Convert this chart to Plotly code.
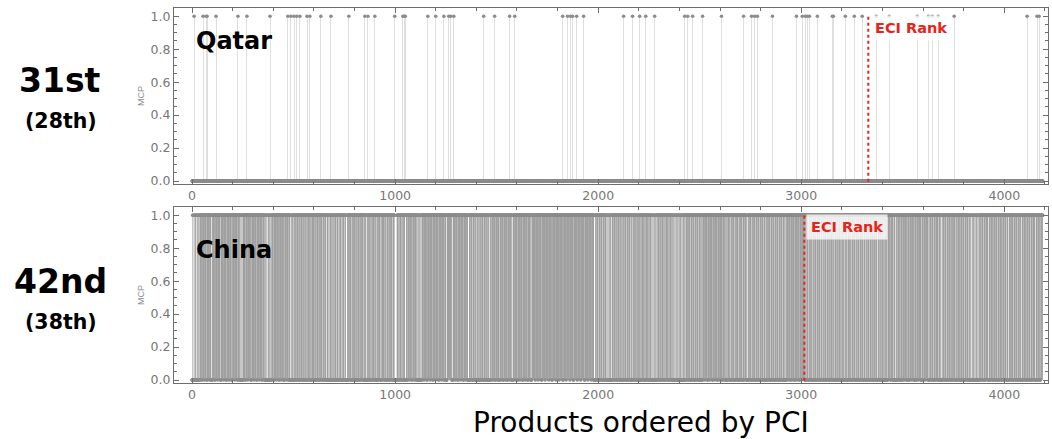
import numpy as np
import plotly.graph_objects as go
from plotly.subplots import make_subplots

# ---- data -------------------------------------------------------------
N_PRODUCTS = 4190  # products ordered by PCI (index 0 .. N-1)

# Qatar: products with revealed comparative advantage (MCP = 1)
qatar_exported = [
    10, 54, 69, 74, 118, 226, 270, 384, 472, 487, 502, 516, 531, 566, 580,
    634, 684, 772, 851, 866, 900, 998, 1038, 1045, 1050, 1161, 1200, 1240,
    1264, 1274, 1289, 1436, 1490, 1564, 1589, 1825, 1849, 1864, 1874, 1894,
    1928, 2125, 2169, 2204, 2234, 2278, 2426, 2441, 2465, 2514, 2607, 2716,
    2755, 2770, 2784, 2858, 2976, 3005, 3020, 3030, 3040, 3079, 3153, 3158,
    3217, 3261, 3300, 3369, 3433, 3571, 3625, 3645, 3674, 3753, 4112, 4161,
    4171,
]

# China: runs of products WITHOUT comparative advantage (start, length);
# every other product has MCP = 1
china_zero_runs = [
    (0, 3), (5, 4), (12, 3), (19, 5), (28, 4), (36, 3), (48, 2), (60, 1),
    (72, 2), (84, 1), (95, 5), (112, 2), (126, 1), (140, 3), (155, 1),
    (168, 2), (182, 1), (195, 3), (210, 1), (224, 2), (236, 3), (242, 3),
    (248, 3), (262, 2), (275, 1), (290, 3), (305, 1), (318, 2), (332, 1),
    (345, 2), (358, 3), (364, 3), (370, 4), (378, 3), (385, 3), (391, 2),
    (402, 2), (415, 1), (428, 2), (440, 1), (452, 3), (466, 1), (476, 2),
    (484, 6), (497, 3), (506, 2), (514, 2), (525, 3), (533, 2), (543, 2),
    (551, 3), (561, 2), (569, 2), (580, 3), (589, 2), (601, 2), (610, 3),
    (621, 2), (629, 2), (641, 3), (650, 2), (660, 4), (670, 3), (677, 3),
    (686, 2), (693, 3), (702, 2), (709, 3), (719, 3), (726, 2), (735, 3),
    (742, 2), (750, 3), (758, 6), (772, 2), (783, 3), (792, 2), (803, 2),
    (812, 3), (823, 2), (831, 2), (843, 3), (851, 2), (857, 4), (866, 2),
    (876, 3), (885, 2), (896, 2), (905, 4), (915, 2), (926, 3), (934, 2),
    (946, 2), (955, 3), (966, 2), (974, 2), (986, 3), (997, 12), (1018, 3),
    (1029, 2), (1037, 3), (1049, 5), (1060, 2), (1072, 1), (1083, 2),
    (1094, 1), (1103, 2), (1110, 3), (1116, 3), (1122, 4), (1129, 3),
    (1142, 1), (1156, 2), (1171, 1), (1185, 2), (1199, 1), (1214, 2),
    (1229, 1), (1242, 2), (1251, 4), (1280, 4), (1295, 1), (1308, 2),
    (1323, 1), (1336, 2), (1349, 1), (1359, 5), (1370, 2), (1381, 3),
    (1390, 2), (1398, 4), (1408, 2), (1416, 3), (1426, 2), (1434, 3),
    (1444, 2), (1452, 3), (1462, 5), (1472, 2), (1483, 1), (1492, 2),
    (1503, 1), (1512, 3), (1523, 1), (1532, 2), (1543, 1), (1552, 2),
    (1562, 1), (1574, 6), (1590, 1), (1603, 2), (1615, 1), (1628, 2),
    (1641, 1), (1653, 2), (1668, 4), (1690, 1), (1705, 1), (1721, 2),
    (1738, 1), (1756, 1), (1772, 2), (1791, 1), (1808, 1), (1826, 2),
    (1842, 1), (1861, 1), (1878, 2), (1897, 1), (1914, 1), (1933, 2),
    (1950, 1), (1967, 1), (1980, 6), (1992, 2), (2001, 3), (2012, 2),
    (2021, 3), (2031, 2), (2039, 3), (2045, 3), (2051, 3), (2057, 3),
    (2064, 4), (2075, 2), (2086, 3), (2095, 2), (2106, 3), (2116, 4),
    (2127, 2), (2138, 3), (2147, 2), (2158, 3), (2166, 4), (2176, 2),
    (2186, 3), (2195, 2), (2205, 3), (2214, 2), (2225, 3), (2234, 2),
    (2245, 3), (2253, 2), (2260, 3), (2266, 3), (2272, 4), (2279, 3),
    (2285, 3), (2292, 2), (2303, 3), (2312, 2), (2323, 3), (2332, 2),
    (2343, 3), (2352, 2), (2362, 3), (2368, 3), (2374, 3), (2380, 3),
    (2387, 3), (2394, 3), (2401, 3), (2408, 3), (2415, 3), (2422, 3),
    (2429, 3), (2442, 2), (2453, 3), (2462, 2), (2473, 3), (2482, 2),
    (2493, 3), (2502, 2), (2510, 4), (2525, 1), (2538, 2), (2549, 1),
    (2562, 2), (2573, 1), (2586, 2), (2597, 1), (2610, 2), (2620, 1),
    (2628, 4), (2638, 2), (2649, 3), (2658, 2), (2669, 3), (2678, 2),
    (2689, 3), (2698, 2), (2709, 3), (2718, 2), (2731, 6), (2742, 2),
    (2753, 3), (2762, 2), (2773, 3), (2782, 2), (2793, 3), (2802, 2),
    (2813, 3), (2824, 4), (2836, 2), (2847, 3), (2856, 2), (2867, 3),
    (2876, 2), (2887, 3), (2896, 2), (2907, 3), (2915, 2), (2922, 4),
    (2935, 1), (2946, 2), (2958, 1), (2968, 2), (2980, 1), (2990, 2),
    (3001, 1), (3018, 3), (3027, 2), (3036, 3), (3047, 2), (3055, 4),
    (3066, 2), (3074, 3), (3085, 2), (3093, 3), (3104, 4), (3114, 2),
    (3122, 3), (3133, 2), (3141, 3), (3152, 2), (3161, 4), (3172, 2),
    (3180, 3), (3191, 2), (3199, 3), (3210, 4), (3220, 2), (3228, 3),
    (3239, 2), (3247, 3), (3258, 2), (3267, 4), (3278, 2), (3286, 3),
    (3297, 2), (3305, 3), (3316, 4), (3326, 2), (3334, 3), (3345, 2),
    (3353, 3), (3364, 2), (3373, 4), (3384, 2), (3392, 3), (3403, 2),
    (3411, 3), (3422, 4), (3440, 2), (3452, 3), (3463, 5), (3475, 2),
    (3486, 3), (3497, 2), (3508, 1), (3520, 3), (3531, 2), (3543, 1),
    (3555, 3), (3566, 2), (3578, 1), (3590, 3), (3601, 2), (3613, 1),
    (3626, 5), (3640, 2), (3651, 3), (3662, 2), (3674, 3), (3684, 2),
    (3690, 5), (3703, 2), (3714, 3), (3725, 2), (3736, 3), (3747, 2),
    (3759, 4), (3770, 2), (3781, 3), (3792, 2), (3803, 3), (3814, 2),
    (3823, 3), (3830, 3), (3836, 4), (3844, 3), (3851, 3), (3858, 4),
    (3866, 3), (3873, 4), (3885, 2), (3896, 3), (3907, 2), (3921, 4),
    (3933, 2), (3944, 3), (3955, 2), (3966, 3), (3977, 2), (3988, 3),
    (3999, 2), (4010, 3), (4019, 4), (4032, 2), (4043, 3), (4054, 2),
    (4065, 3), (4076, 2), (4083, 4), (4095, 2), (4106, 3), (4117, 2),
    (4128, 3), (4139, 2), (4152, 4), (4164, 2), (4175, 3),
]

countries = ["Qatar", "China"]
eci_rank_position = [3330, 3015]
rank_labels = ["31st", "42nd"]
rank_sublabels = ["(28th)", "(38th)"]

x_ticks = [0, 1000, 2000, 3000, 4000]
y_ticks = [0.0, 0.2, 0.4, 0.6, 0.8, 1.0]

# ---- build MCP vectors --------------------------------------------------
products = np.arange(N_PRODUCTS)

qatar_mcp = np.zeros(N_PRODUCTS)
qatar_mcp[qatar_exported] = 1

china_mcp = np.ones(N_PRODUCTS)
for start, length in china_zero_runs:
    china_mcp[start:start + length] = 0

mcp_series = [qatar_mcp, china_mcp]

# ---- figure -------------------------------------------------------------
FONT = "DejaVu Sans, Verdana, sans-serif"
NARROW = "Liberation Sans Narrow, Arial Narrow, sans-serif"
SPIKE = "rgba(135,135,135,0.27)"
DOT = "#8c8c8c"
FRAME = "#6e6e6e"
TICKTXT = "#777777"
RED = "#e8231a"

fig = make_subplots(rows=2, cols=1, vertical_spacing=0.05)

for i, mcp in enumerate(mcp_series):
    row = i + 1
    ones = products[mcp == 1]
    zeros = products[mcp == 0]
    # vertical stems for every product with MCP = 1
    fig.add_trace(go.Bar(
        x=ones, y=np.ones(len(ones)), width=5,
        marker=dict(color=SPIKE, line=dict(width=0)),
        hoverinfo="skip", showlegend=False,
    ), row=row, col=1)
    # point markers at the MCP value of every product
    fig.add_trace(go.Scatter(
        x=np.concatenate([ones, zeros]),
        y=np.concatenate([np.ones(len(ones)), np.zeros(len(zeros))]),
        mode="markers",
        marker=dict(size=3.6, color=DOT, line=dict(width=0)),
        hoverinfo="skip", showlegend=False,
    ), row=row, col=1)

axis_common = dict(
    showline=True, linecolor=FRAME, linewidth=1, mirror="ticks",
    showgrid=False, zeroline=False,
    ticks="inside", ticklen=5, tickcolor=FRAME, tickwidth=1,
    tickfont=dict(family=FONT, size=12.5, color=TICKTXT),
)

y_domains = [[0.5809, 0.9818], [0.1276, 0.5285]]
for i in range(2):
    xa = "xaxis" if i == 0 else "xaxis2"
    ya = "yaxis" if i == 0 else "yaxis2"
    fig.layout[xa].update(
        domain=[0.1654, 0.9962], range=[-89, 4215],
        tickvals=x_ticks, ticktext=[str(v) for v in x_ticks],
        minor=dict(dtick=200, tick0=0, ticks="inside", ticklen=3,
                   tickcolor=FRAME, showgrid=False),
        **axis_common,
    )
    fig.layout[ya].update(
        domain=y_domains[i], range=[-0.018, 1.05],
        tickvals=y_ticks, ticktext=[f"{v:.1f}" for v in y_ticks],
        minor=dict(dtick=0.05, tick0=0, ticks="inside", ticklen=3,
                   tickcolor=FRAME, showgrid=False),
        title=dict(text="MCP", standoff=4,
                   font=dict(family=NARROW, size=9, color="#8a8a8a")),
        **axis_common,
    )

shapes = []
annotations = []
for i, name in enumerate(countries):
    xr = "x" if i == 0 else "x2"
    yr = "y" if i == 0 else "y2"
    # ECI rank marker
    shapes.append(dict(
        type="line", xref=xr, yref=yr,
        x0=eci_rank_position[i], x1=eci_rank_position[i], y0=-0.005, y1=1.0,
        line=dict(color=RED, width=2, dash="dot"), layer="above",
    ))
    annotations.append(dict(
        xref=xr, yref=yr, x=eci_rank_position[i], y=1.0,
        xanchor="left", yanchor="top", xshift=2, yshift=1,
        text="<b>ECI Rank</b>", showarrow=False,
        font=dict(family=FONT, size=14.5, color=RED),
        bgcolor="rgba(255,255,255,0.78)", borderpad=4,
    ))
    # country name inside the panel
    annotations.append(dict(
        xref="paper", yref="paper", x=194 / 1052,
        y=1 - (41 if i == 0 else 250) / 439,
        xanchor="left", yanchor="middle", showarrow=False,
        text=f"<b>{name}</b>",
        font=dict(family=FONT, size=24, color="black"),
    ))
    # rank labels on the left
    cy = 80 if i == 0 else 281
    annotations.append(dict(
        xref="paper", yref="paper", x=60 / 1052, y=1 - cy / 439,
        xanchor="center", yanchor="middle", showarrow=False,
        text=f"<b>{rank_labels[i]}</b>",
        font=dict(family=FONT, size=33, color="black"),
    ))
    annotations.append(dict(
        xref="paper", yref="paper", x=61 / 1052, y=1 - (cy + 41) / 439,
        xanchor="center", yanchor="middle", showarrow=False,
        text=f"<b>{rank_sublabels[i]}</b>",
        font=dict(family=FONT, size=20.5, color="black"),
    ))

annotations.append(dict(
    xref="paper", yref="paper", x=641 / 1052, y=1 - 422 / 439,
    xanchor="center", yanchor="middle", showarrow=False,
    text="Products ordered by PCI",
    font=dict(family=FONT, size=28, color="black"),
))

fig.update_layout(
    template="none",
    width=1052, height=439,
    margin=dict(l=0, r=0, t=0, b=0),
    paper_bgcolor="white", plot_bgcolor="white",
    barmode="overlay", bargap=0,
    shapes=shapes, annotations=annotations,
    showlegend=False,
)

fig.write_html("out.html")
